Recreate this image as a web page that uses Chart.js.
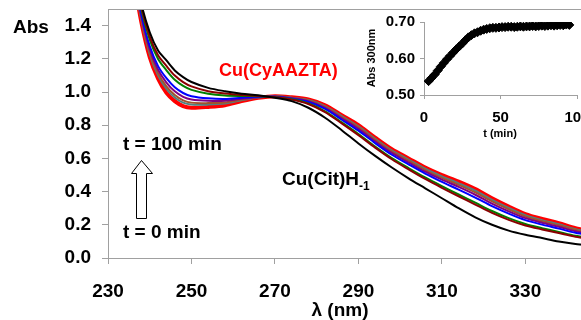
<!DOCTYPE html>
<html>
<head>
<meta charset="utf-8">
<title>Cu(CyAAZTA) spectra</title>
<script src="https://cdn.jsdelivr.net/npm/chart.js"></script>
<style>
  html, body { margin: 0; padding: 0; background: #fff; overflow: hidden; }
  #wrap { position: relative; width: 581px; height: 320px; overflow: hidden; }
  #main { position: absolute; left: 0; top: 0; }
  #inset { position: absolute; left: 360px; top: 0; }
</style>
</head>
<body>
<div id="wrap">
  <canvas id="main" width="600" height="320"></canvas>
  <canvas id="inset" width="240" height="145"></canvas>
</div>
<script>
// wavelength grid (nm)
const wavelengths = [236, 238, 240, 242, 244, 246, 248, 250, 254, 258, 262, 266, 270, 274, 278, 282,
  286, 290, 294, 298, 302, 306, 310, 314, 318, 322, 326, 330, 334, 338, 342, 346];

// spectra, t = 0 min (black) ... t = 100 min (red)
const absBlack = [1.80, 1.53, 1.36, 1.25, 1.19, 1.13, 1.09, 1.06, 1.025, 1.005, 0.99, 0.98, 0.965, 0.945, 0.905, 0.845,
  0.77, 0.69, 0.615, 0.545, 0.48, 0.42, 0.36, 0.30, 0.245, 0.20, 0.165, 0.14, 0.12, 0.10, 0.085, 0.075];
const absMaroon = [1.783, 1.511, 1.334, 1.221, 1.157, 1.099, 1.060, 1.034, 1.005, 0.991, 0.982, 0.976, 0.968, 0.954, 0.928, 0.879,
  0.811, 0.740, 0.665, 0.595, 0.534, 0.476, 0.423, 0.372, 0.322, 0.272, 0.230, 0.196, 0.172, 0.150, 0.128, 0.113];
const absGreen = [1.770, 1.497, 1.315, 1.199, 1.131, 1.074, 1.037, 1.013, 0.990, 0.979, 0.976, 0.975, 0.969, 0.956, 0.931, 0.884,
  0.817, 0.747, 0.672, 0.602, 0.542, 0.485, 0.433, 0.383, 0.333, 0.283, 0.240, 0.205, 0.180, 0.157, 0.134, 0.119];
const absBlue = [1.745, 1.469, 1.277, 1.156, 1.083, 1.028, 0.994, 0.975, 0.962, 0.958, 0.965, 0.971, 0.971, 0.960, 0.940, 0.898,
  0.833, 0.767, 0.692, 0.622, 0.564, 0.508, 0.458, 0.412, 0.364, 0.312, 0.267, 0.228, 0.201, 0.177, 0.152, 0.135];
const absPurple = [1.732, 1.455, 1.258, 1.134, 1.057, 1.004, 0.971, 0.955, 0.947, 0.947, 0.959, 0.969, 0.973, 0.963, 0.945, 0.905,
  0.842, 0.778, 0.703, 0.633, 0.576, 0.520, 0.472, 0.428, 0.381, 0.328, 0.281, 0.240, 0.212, 0.188, 0.161, 0.143];
const absBrown = [1.720, 1.442, 1.240, 1.114, 1.034, 0.982, 0.950, 0.936, 0.933, 0.937, 0.954, 0.968, 0.974, 0.965, 0.949, 0.911,
  0.849, 0.787, 0.712, 0.642, 0.586, 0.530, 0.483, 0.441, 0.395, 0.341, 0.293, 0.250, 0.221, 0.197, 0.169, 0.150];
const absTeal = [1.712, 1.433, 1.228, 1.100, 1.018, 0.967, 0.936, 0.924, 0.924, 0.930, 0.950, 0.967, 0.974, 0.966, 0.952, 0.915,
  0.855, 0.793, 0.718, 0.648, 0.593, 0.538, 0.492, 0.450, 0.405, 0.350, 0.301, 0.258, 0.228, 0.203, 0.174, 0.155];
const absRed = [1.70, 1.42, 1.21, 1.08, 0.995, 0.945, 0.915, 0.905, 0.91, 0.92, 0.945, 0.965, 0.975, 0.968, 0.955, 0.92,
  0.86, 0.80, 0.725, 0.655, 0.60, 0.545, 0.50, 0.46, 0.415, 0.36, 0.31, 0.265, 0.235, 0.21, 0.18, 0.16];

const xTicks = [230, 250, 270, 290, 310, 330];
const yTicks = [0.0, 0.2, 0.4, 0.6, 0.8, 1.0, 1.2, 1.4];

// inset: Abs at 300 nm vs time
const insetTime = [3, 5, 7, 9, 11, 13, 15, 17, 19, 21, 23, 25, 27, 29, 31, 33, 35, 37, 39, 41, 43, 45, 47,
  49, 51, 53, 55, 57, 59, 61, 63, 65, 67, 69, 71, 73, 75, 77, 79, 81, 83, 85, 87, 89, 91, 93, 95];
const insetAbs = [0.538, 0.547, 0.556, 0.567, 0.578, 0.588, 0.598, 0.607, 0.616, 0.625, 0.633, 0.641, 0.650,
  0.658, 0.664, 0.669, 0.672, 0.676, 0.679, 0.681, 0.683, 0.684, 0.684, 0.685, 0.686, 0.686, 0.687, 0.687,
  0.686, 0.687, 0.688, 0.687, 0.688, 0.688, 0.689, 0.688, 0.689, 0.690, 0.689, 0.690, 0.691, 0.690, 0.691,
  0.692, 0.691, 0.693, 0.692];
const insetXTicks = [0, 50, 100];
const insetYTicks = [0.50, 0.60, 0.70];

const FONT = "'Liberation Sans', Arial, sans-serif";
const AXIS = '#a0a0a0';
Chart.defaults.font.family = FONT;
Chart.defaults.font.weight = 'bold';
Chart.defaults.color = '#000';

function pts(xs, ys) { return xs.map((x, i) => ({ x: x, y: ys[i] })); }
// keep the plot area exactly where layout padding puts it
function noPad(s) { s.paddingTop = 0; s.paddingBottom = 0; s.paddingLeft = 0; s.paddingRight = 0; }

const spectra = [
  { data: absBlack, color: '#000000', width: 2 },
  { data: absMaroon, color: '#8b0000', width: 2 },
  { data: absGreen, color: '#008000', width: 2 },
  { data: absBlue, color: '#0000ff', width: 2 },
  { data: absPurple, color: '#800080', width: 2 },
  { data: absBrown, color: '#a0522d', width: 2 },
  { data: absTeal, color: '#4f8080', width: 2 },
  { data: absRed, color: '#ff0000', width: 4 }
];

const mainLabels = {
  id: 'mainLabels',
  afterDraw(chart) {
    const { ctx, chartArea } = chart;
    ctx.save();
    // top border of the plot area
    ctx.strokeStyle = AXIS;
    ctx.lineWidth = 1;
    ctx.beginPath();
    ctx.moveTo(chartArea.left, Math.round(chartArea.top) + 0.5);
    ctx.lineTo(chartArea.right, Math.round(chartArea.top) + 0.5);
    ctx.stroke();

    ctx.textBaseline = 'alphabetic';
    ctx.fillStyle = '#000';
    ctx.font = 'bold 19px ' + FONT;
    ctx.textAlign = 'left';
    ctx.fillText('Abs', 13, 33);
    ctx.fillText('t = 100 min', 123, 150);
    ctx.fillText('t = 0 min', 123, 238);
    ctx.fillText('Cu(Cit)H', 282, 185);
    const w = ctx.measureText('Cu(Cit)H').width;
    ctx.font = 'bold 12px ' + FONT;
    ctx.fillText('-1', 282 + w, 190);

    ctx.font = 'bold 19px ' + FONT;
    ctx.textAlign = 'center';
    ctx.fillText('\u03bb (nm)', 340, 316);

    ctx.fillStyle = '#ff0000';
    ctx.font = 'bold 18px ' + FONT;
    ctx.textAlign = 'left';
    ctx.fillText('Cu(CyAAZTA)', 219, 76);

    // hollow arrow
    ctx.beginPath();
    ctx.moveTo(136.5, 218.5);
    ctx.lineTo(146.5, 218.5);
    ctx.lineTo(146.5, 173.5);
    ctx.lineTo(152.5, 173.5);
    ctx.lineTo(141.5, 160.5);
    ctx.lineTo(131.5, 173.5);
    ctx.lineTo(136.5, 173.5);
    ctx.closePath();
    ctx.fillStyle = '#fff';
    ctx.fill();
    ctx.strokeStyle = '#000';
    ctx.lineWidth = 1;
    ctx.stroke();
    ctx.restore();
  }
};

new Chart(document.getElementById('main'), {
  type: 'scatter',
  data: {
    datasets: spectra.map((s, i) => ({
      data: pts(wavelengths, s.data),
      showLine: true,
      borderColor: s.color,
      borderWidth: s.width,
      pointRadius: 0,
      tension: 0.3,
      fill: false,
      order: i === spectra.length - 1 ? 100 : i
    }))
  },
  options: {
    responsive: false,
    animation: false,
    devicePixelRatio: 1,
    layout: { padding: { top: 9, right: 12, left: 0, bottom: 0 } },
    plugins: { legend: { display: false }, tooltip: { enabled: false } },
    scales: {
      x: {
        type: 'linear', min: 230, max: 345,
        afterBuildTicks: s => { s.ticks = xTicks.map(v => ({ value: v })); },
        afterFit: s => { s.height = 62; noPad(s); },
        grid: { drawOnChartArea: false, drawTicks: true, tickLength: 6, color: AXIS },
        border: { color: AXIS },
        ticks: { font: { size: 19, weight: 'bold' }, padding: 16, maxRotation: 0, color: '#000' }
      },
      y: {
        type: 'linear', min: 0, max: 1.5,
        afterBuildTicks: s => { s.ticks = yTicks.map(v => ({ value: v })); },
        afterFit: s => { s.width = 108; noPad(s); },
        grid: { drawOnChartArea: false, drawTicks: true, tickLength: 6, color: AXIS },
        border: { color: AXIS },
        ticks: { font: { size: 19, weight: 'bold' }, padding: 11, color: '#000',
          callback: v => Number(v).toFixed(1) }
      }
    }
  },
  plugins: [mainLabels]
});

const insetLabels = {
  id: 'insetLabels',
  afterDraw(chart) {
    const { ctx } = chart;
    ctx.save();
    ctx.fillStyle = '#000';
    ctx.font = 'bold 11px ' + FONT;
    ctx.textAlign = 'center';
    ctx.textBaseline = 'alphabetic';
    ctx.fillText('t (min)', 140, 137);
    ctx.translate(12, 58);
    ctx.rotate(-Math.PI / 2);
    ctx.textBaseline = 'middle';
    ctx.fillText('Abs 300nm', 0, 0);
    ctx.restore();
  }
};

new Chart(document.getElementById('inset'), {
  type: 'scatter',
  data: {
    datasets: [{
      data: pts(insetTime, insetAbs),
      pointStyle: 'rectRot',
      pointRadius: 4.5,
      backgroundColor: '#000',
      borderColor: '#000',
      borderWidth: 1,
      showLine: false
    }]
  },
  options: {
    responsive: false,
    animation: false,
    devicePixelRatio: 1,
    layout: { padding: { top: 22, right: 23, left: 0, bottom: 0 } },
    plugins: { legend: { display: false }, tooltip: { enabled: false } },
    scales: {
      x: {
        type: 'linear', min: 0, max: 100,
        afterBuildTicks: s => { s.ticks = insetXTicks.map(v => ({ value: v })); },
        afterFit: s => { s.height = 50; noPad(s); },
        grid: { drawOnChartArea: false, drawTicks: true, tickLength: 4, color: AXIS },
        border: { color: AXIS },
        ticks: { font: { size: 15, weight: 'bold' }, padding: 10, maxRotation: 0, color: '#000' }
      },
      y: {
        type: 'linear', min: 0.5, max: 0.7,
        afterBuildTicks: s => { s.ticks = insetYTicks.map(v => ({ value: v })); },
        afterFit: s => { s.width = 64; noPad(s); },
        grid: { drawOnChartArea: false, drawTicks: true, tickLength: 4, color: AXIS },
        border: { color: AXIS },
        ticks: { font: { size: 15, weight: 'bold' }, padding: 5, color: '#000',
          callback: v => Number(v).toFixed(2) }
      }
    }
  },
  plugins: [insetLabels]
});
</script>
</body>
</html>
